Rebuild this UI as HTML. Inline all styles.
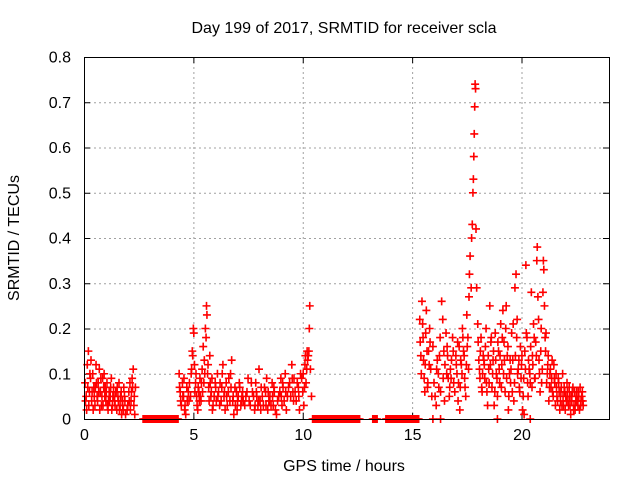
<!DOCTYPE html>
<html><head><meta charset="utf-8"><style>
body{margin:0;background:#fff}
svg text{font-family:"Liberation Sans",sans-serif;font-size:16px;fill:#000}
</style></head><body>
<svg id="chart" width="640" height="480" xmlns="http://www.w3.org/2000/svg">
<text x="344" y="33" text-anchor="middle">Day 199 of 2017, SRMTID for receiver scla</text>
<text x="344" y="471" text-anchor="middle">GPS time / hours</text>
<text transform="translate(19,238) rotate(-90)" text-anchor="middle">SRMTID / TECUs</text>
<g id="grid"></g>
<g id="ticks"></g>
<g id="marks"></g>
<rect x="84.5" y="57.5" width="525" height="362" fill="none" stroke="#000" stroke-width="1"/>
</svg>
<script>
const xTicks=[0,5,10,15,20];
const yTicks=[0,0.1,0.2,0.3,0.4,0.5,0.6,0.7,0.8];
const yTickLabels=["0","0.1","0.2","0.3","0.4","0.5","0.6","0.7","0.8"];
const segA_t=[0.05,0.1,0.15,0.2,0.25,0.3,0.35,0.4,0.45,0.5,0.55,0.6,0.65,0.7,0.75,0.8,0.85,0.9,0.95,1.0,1.05,1.1,1.15,1.2,1.25,1.3,1.35,1.4,1.45,1.5,1.55,1.6,1.65,1.7,1.75,1.8,1.85,1.9,2.0,2.05,2.1,2.15,2.2,2.25,2.3,2.35,0.12,0.32,0.52,0.72,0.92,1.12,1.32,1.52,1.72,2.12,2.28];
const segA_v=[0.08,0.05,0.12,0.15,0.06,0.09,0.04,0.10,0.07,0.03,0.12,0.05,0.08,0.11,0.06,0.03,0.09,0.07,0.05,0.04,0.08,0.02,0.06,0.05,0.09,0.03,0.07,0.04,0.06,0.02,0.05,0.08,0.03,0.06,0.04,0.02,0.05,0.01,0.03,0.06,0.08,0.04,0.09,0.11,0.05,0.07,0.02,0.13,0.07,0.02,0.10,0.04,0.05,0.07,0.01,0.02,0.03];
const segA2_t=[0.07,0.17,0.22,0.27,0.37,0.42,0.47,0.57,0.62,0.67,0.77,0.82,0.87,0.97,1.02,1.07,1.17,1.22,1.27,1.37,1.42,1.47,1.57,1.62,1.67,1.77,1.82,1.87,1.97,2.07,2.17,2.22,2.32];
const segA2_v=[0.04,0.07,0.03,0.10,0.06,0.02,0.05,0.08,0.04,0.06,0.09,0.05,0.03,0.07,0.06,0.03,0.04,0.07,0.02,0.05,0.03,0.06,0.04,0.02,0.05,0.03,0.07,0.04,0.02,0.04,0.06,0.07,0.01];
const segB_t=[4.35,4.4,4.45,4.5,4.55,4.6,4.7,4.8,4.9,4.95,5.0,5.02,5.05,5.1,5.15,5.2,5.25,5.3,5.35,5.4,5.45,5.5,5.55,5.6,5.62,5.65,5.7,5.75,5.8,5.85,5.9,4.65,5.48,5.58];
const segB_v=[0.10,0.06,0.03,0.08,0.05,0.02,0.07,0.04,0.10,0.15,0.20,0.19,0.12,0.08,0.05,0.02,0.06,0.09,0.04,0.11,0.16,0.13,0.20,0.25,0.23,0.10,0.07,0.14,0.05,0.09,0.03,0.01,0.08,0.18];
const segB2_t=[4.37,4.42,4.52,4.57,4.62,4.72,4.77,4.82,4.87,4.92,4.97,5.07,5.12,5.17,5.22,5.27,5.32,5.37,5.42,5.52,5.67,5.72,5.77,5.82,5.87,5.95,6.02,6.12,6.22,6.27,6.32,6.42,6.52,6.62,6.67,6.72,6.82,6.92,6.97,7.02,7.12,7.17,7.22,7.28];
const segB2_v=[0.07,0.04,0.05,0.09,0.03,0.04,0.06,0.08,0.05,0.11,0.14,0.06,0.10,0.03,0.07,0.04,0.05,0.08,0.06,0.10,0.12,0.04,0.08,0.06,0.02,0.05,0.07,0.05,0.08,0.04,0.10,0.06,0.05,0.09,0.04,0.07,0.05,0.03,0.06,0.04,0.07,0.03,0.05,0.04];
const segC_t=[6.0,6.05,6.1,6.15,6.2,6.3,6.35,6.4,6.5,6.55,6.6,6.7,6.75,6.8,6.9,7.0,7.05,7.1,7.2,7.25,6.45,6.85];
const segC_v=[0.08,0.04,0.10,0.06,0.03,0.07,0.12,0.05,0.08,0.03,0.06,0.10,0.13,0.04,0.07,0.02,0.05,0.08,0.04,0.06,0.02,0.01];
const segD_t=[7.4,7.5,7.6,7.7,7.8,7.85,7.9,8.0,8.05,8.1,8.2,8.3,8.35,8.4,8.5,8.6,8.65,8.7,8.8,8.9,9.0,9.05,9.1,9.2,9.3,9.4,9.5,9.55,9.6,9.7,9.8,9.9,10.0,10.05,10.1,10.15,10.2,10.25,10.3,10.32,10.35,10.4,7.95,8.45,9.25,9.85];
const segD_v=[0.05,0.09,0.03,0.06,0.02,0.08,0.05,0.11,0.04,0.07,0.03,0.06,0.09,0.02,0.05,0.08,0.03,0.06,0.01,0.05,0.09,0.03,0.07,0.10,0.05,0.08,0.12,0.06,0.09,0.04,0.07,0.10,0.06,0.03,0.12,0.08,0.15,0.14,0.20,0.25,0.11,0.05,0.03,0.04,0.02,0.02];
const segD2_t=[7.35,7.45,7.55,7.65,7.75,7.82,7.88,7.98,8.08,8.15,8.25,8.32,8.42,8.48,8.55,8.62,8.68,8.75,8.85,8.95,9.02,9.08,9.15,9.22,9.35,9.45,9.52,9.58,9.65,9.75,9.82,9.95,10.02,10.08,10.12,10.18,10.22,10.28];
const segD2_v=[0.03,0.06,0.04,0.08,0.05,0.03,0.06,0.04,0.02,0.05,0.07,0.03,0.06,0.04,0.03,0.05,0.07,0.02,0.04,0.06,0.05,0.08,0.04,0.06,0.07,0.05,0.09,0.04,0.06,0.08,0.05,0.09,0.10,0.07,0.14,0.11,0.13,0.15];
const segE_t=[15.35,15.4,15.45,15.5,15.55,15.6,15.65,15.7,15.75,15.8,15.85,15.9,15.95,16.0,16.1,16.2,16.25,16.3,16.35,16.4,16.5,16.6,16.65,16.7,16.8,16.85,16.9,17.0,17.05,17.1,17.15,17.2,17.25,17.3,17.35,17.4,17.45,17.5,17.55,17.6,17.62,17.65,17.7,17.72,17.75,17.78,17.8,17.82,17.84,17.86,17.88,17.9,17.92,17.95,18.0,18.05,18.1,18.15,18.2,18.3,18.35,18.4,18.45,18.5,18.55,18.6,18.65,18.7,18.8,18.85,18.9,18.95,19.0,19.05,19.1,19.2,19.25,19.3,19.35,19.4,19.45,19.5,19.55,19.6,19.65,19.7,19.75,19.8,19.85,19.9,19.95,20.0,20.05,20.1,20.15,20.2,20.25,20.3,20.35,20.4,20.5,20.55,20.6,20.65,20.7,20.72,20.75,20.8,20.85,20.9,20.95,21.0,21.02,21.05,21.1,21.15,21.2,21.25,21.3,21.35,21.4,21.45,21.5,21.55,21.6,21.65,21.7,21.75,21.8,21.85,21.9,21.95,22.0,22.05,22.1,22.15,22.2,22.25,22.3,22.35,22.4,22.45,22.5,22.55,22.6,22.65,22.7,22.75,22.8,16.15,16.55,17.18,17.58,18.25,18.75,19.15,19.58,20.12,20.45,21.12,21.58,22.08,22.42];
const segE_v=[0.22,0.14,0.26,0.18,0.09,0.12,0.24,0.07,0.15,0.20,0.11,0.05,0.16,0.08,0.03,0.10,0.14,0.06,0.26,0.22,0.12,0.16,0.09,0.05,0.13,0.18,0.08,0.14,0.10,0.04,0.16,0.07,0.12,0.20,0.15,0.09,0.05,0.23,0.18,0.27,0.32,0.36,0.29,0.40,0.43,0.50,0.53,0.58,0.63,0.69,0.74,0.73,0.42,0.29,0.21,0.13,0.09,0.18,0.06,0.12,0.16,0.08,0.03,0.11,0.25,0.17,0.07,0.13,0.19,0.10,0.05,0.15,0.08,0.21,0.12,0.17,0.06,0.25,0.14,0.02,0.10,0.08,0.19,0.13,0.04,0.29,0.32,0.22,0.11,0.07,0.16,0.12,0.02,0.09,0.15,0.34,0.18,0.05,0.11,0.08,0.14,0.21,0.09,0.17,0.35,0.38,0.27,0.13,0.06,0.20,0.11,0.35,0.33,0.25,0.15,0.08,0.12,0.04,0.10,0.07,0.13,0.05,0.09,0.03,0.07,0.04,0.08,0.02,0.06,0.03,0.05,0.07,0.02,0.04,0.06,0.03,0.05,0.01,0.04,0.07,0.03,0.02,0.05,0.04,0.06,0.02,0.03,0.05,0.04,0.13,0.19,0.02,0.11,0.14,0.03,0.24,0.06,0.01,0.28,0.19,0.10,0.08,0.06];
const segE2_t=[15.37,15.42,15.48,15.52,15.58,15.62,15.68,15.72,15.78,15.82,16.05,16.12,16.22,16.28,16.42,16.45,16.48,16.58,16.62,16.72,16.75,16.78,16.88,16.95,17.02,17.08,17.12,17.22,17.28,17.32,17.38,17.42,17.48,17.52,18.02,18.08,18.12,18.18,18.22,18.28,18.32,18.38,18.42,18.48,18.52,18.58,18.62,18.68,18.72,18.78,18.82,18.88,18.92,18.98,19.02,19.08,19.12,19.18,19.22,19.28,19.32,19.38,19.42,19.48,19.52,19.62,19.68,19.72,19.78,19.82,19.88,19.92,19.98,20.02,20.08,20.18,20.22,20.28,20.32,20.38,20.42,20.48,20.52,20.58,20.62,20.68,20.78,20.82,20.88,20.92,20.98,21.08,21.18,21.22,21.28,21.32,21.38,21.42,21.48,21.52,21.62,21.68,21.72,21.78,21.82,21.88,21.92,21.98,22.02,22.12,22.18,22.22,22.28,22.32,22.38,22.48,22.52,22.58,22.62,22.68,22.72,22.78,22.82];
const segE2_v=[0.17,0.10,0.21,0.13,0.06,0.19,0.15,0.08,0.12,0.17,0.05,0.11,0.07,0.18,0.09,0.15,0.04,0.10,0.14,0.07,0.11,0.09,0.15,0.06,0.12,0.17,0.08,0.13,0.10,0.18,0.14,0.07,0.12,0.16,0.17,0.11,0.15,0.07,0.10,0.13,0.09,0.20,0.06,0.14,0.08,0.12,0.18,0.10,0.15,0.06,0.13,0.09,0.17,0.11,0.14,0.07,0.18,0.10,0.13,0.20,0.09,0.16,0.05,0.13,0.11,0.21,0.08,0.14,0.18,0.10,0.13,0.06,0.09,0.14,0.05,0.11,0.19,0.08,0.13,0.10,0.16,0.07,0.12,0.18,0.09,0.14,0.22,0.10,0.15,0.08,0.28,0.18,0.10,0.14,0.07,0.11,0.09,0.06,0.12,0.08,0.05,0.09,0.06,0.04,0.07,0.10,0.03,0.06,0.05,0.04,0.07,0.03,0.05,0.06,0.02,0.04,0.06,0.03,0.05,0.07,0.04,0.06,0.03];
const zeroTimes=[2.7,2.8,2.9,3.0,3.1,3.2,3.3,3.4,3.5,3.6,3.7,3.8,3.9,4.0,4.1,4.2,4.3,10.45,10.55,10.65,10.75,10.85,10.95,11.05,11.15,11.25,11.35,11.45,11.55,11.65,11.75,11.85,11.95,12.05,12.15,12.25,12.35,12.45,12.55,13.2,13.3,13.4,13.8,13.9,14.0,14.1,14.2,14.3,14.4,14.5,14.6,14.7,14.8,14.9,15.0,15.1,15.2,15.3,15.95,16.3,18.9,20.4];
const zeroTimes2=[2.75,2.85,2.95,3.05,3.15,3.25,3.35,3.45,3.55,3.65,3.75,3.85,3.95,4.05,4.15,4.25,10.5,10.6,10.7,10.8,10.9,11.0,11.1,11.2,11.3,11.4,11.5,11.6,11.7,11.8,11.9,12.0,12.1,12.2,12.3,12.4,12.5,12.6,13.25,13.35,13.85,13.95,14.05,14.15,14.25,14.35,14.45,14.55,14.65,14.75,14.85,14.95,15.05,15.15,15.25];

const X0=84,X1=609,Y0=419,Y1=57,XMAX=24,YMAX=0.8;
const xs=t=>X0+(X1-X0)*t/XMAX;
const ys=v=>Y0-(Y0-Y1)*v/YMAX;
const NS="http://www.w3.org/2000/svg";
const grid=document.getElementById('grid'),ticks=document.getElementById('ticks'),marks=document.getElementById('marks');
function line(p,x1,y1,x2,y2,st,dash){const l=document.createElementNS(NS,'line');l.setAttribute('x1',x1);l.setAttribute('y1',y1);l.setAttribute('x2',x2);l.setAttribute('y2',y2);l.setAttribute('stroke',st);if(dash)l.setAttribute('stroke-dasharray',dash);p.appendChild(l);return l;}
function txt(s,x,y,anchor){const t=document.createElementNS(NS,'text');t.setAttribute('x',x);t.setAttribute('y',y);t.setAttribute('text-anchor',anchor);t.textContent=s;ticks.appendChild(t);return t;}
xTicks.forEach(t=>{const x=xs(t)+0.5;
 if(t>0){const g=line(grid,x,Y0,x,Y1,'#a0a0a0','2,3');
 
 }
 line(ticks,x,Y0,x,Y0-6,'#000');line(ticks,x,Y1,x,Y1+6,'#000');
 const lb=txt(String(t),x,Y0+21,'middle');
 
 });
yTicks.forEach((v,i)=>{const y=ys(v)+0.5;
 if(v>0&&v<YMAX){const g=line(grid,X0,y,X1,y,'#a0a0a0','2,3');
 
 }
 line(ticks,X0,y,X0+6,y,'#000');line(ticks,X1,y,X1-6,y,'#000');
 const lb=txt(yTickLabels[i],X0-13,y+5,'end');
 
 });
function plus(t,v){if(v===undefined)return;const x=xs(t),y=ys(v);const p=document.createElementNS(NS,'path');
 p.setAttribute('d',`M${x-4},${y}H${x+4}M${x},${y-4}V${y+4}`);
 p.setAttribute('stroke','#ff0000');p.setAttribute('stroke-width','1.6');p.setAttribute('fill','none');
 
 
 marks.appendChild(p);}
[[segA_t,segA_v],[segA2_t,segA2_v],[segB_t,segB_v],[segB2_t,segB2_v],[segC_t,segC_v],[segD_t,segD_v],[segD2_t,segD2_v],[segE_t,segE_v],[segE2_t,segE2_v]].forEach(([T,V])=>T.forEach((t,i)=>plus(t,V[i])));
zeroTimes.forEach(t=>plus(t,0));
zeroTimes2.forEach(t=>plus(t,0));
</script>
</body></html>
